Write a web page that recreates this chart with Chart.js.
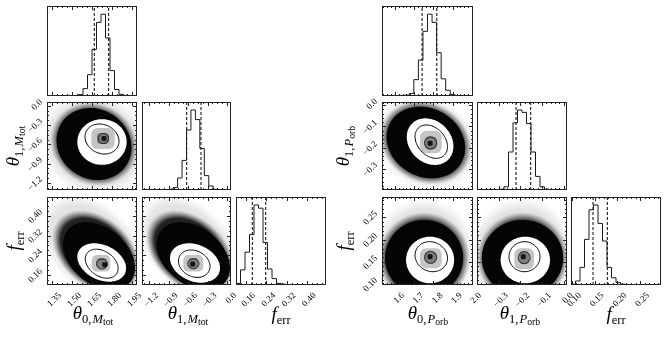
<!DOCTYPE html>
<html><head><meta charset="utf-8">
<script src="https://cdn.jsdelivr.net/npm/chart.js@4.4.1/dist/chart.umd.min.js"></script>
<style>
html,body{margin:0;padding:0;background:#fff;}
#wrap{position:relative;width:664px;height:338px;overflow:hidden;background:#fff;}
#wrap canvas{position:absolute;left:0;top:0;}
.lab{position:absolute;z-index:5;font-family:'Liberation Serif','DejaVu Serif',serif;font-size:19px;line-height:1;white-space:nowrap;color:#000;}
.lab sub{font-size:0.66em;vertical-align:-0.32em;font-style:normal;line-height:1}
.lab sub sub{font-size:0.78em;vertical-align:-0.22em;}
.xl{top:315px;transform:translate(-50%,-50%);}
.yl{transform:translate(-50%,-50%) rotate(-90deg);}
</style></head><body>
<div id="wrap">
<div class="lab xl" style="left:93px"><i>θ</i><sub>0,&#8202;<i>M</i><sub>tot</sub></sub></div>
<div class="lab xl" style="left:188px"><i>θ</i><sub>1,&#8202;<i>M</i><sub>tot</sub></sub></div>
<div class="lab xl" style="left:281px"><i>f</i><sub>err</sub></div>
<div class="lab xl" style="left:428px"><i>θ</i><sub>0,&#8202;<i>P</i><sub>orb</sub></sub></div>
<div class="lab xl" style="left:520px"><i>θ</i><sub>1,&#8202;<i>P</i><sub>orb</sub></sub></div>
<div class="lab xl" style="left:616px"><i>f</i><sub>err</sub></div>
<div class="lab yl" style="left:15px;top:146px"><i>θ</i><sub>1,&#8202;<i>M</i><sub>tot</sub></sub></div>
<div class="lab yl" style="left:15px;top:241px"><i>f</i><sub>err</sub></div>
<div class="lab yl" style="left:345px;top:146px"><i>θ</i><sub>1,&#8202;<i>P</i><sub>orb</sub></sub></div>
<div class="lab yl" style="left:345px;top:241px"><i>f</i><sub>err</sub></div>
</div>
<script>
// ---------------- tick labels ----------------
const ticksThetaM0 = ['1.35','1.50','1.65','1.80','1.95'];
const ticksThetaM1 = ['−1.2','−0.9','−0.6','−0.3','0.0'];
const ticksFerrM   = ['0.16','0.24','0.32','0.40'];
const ticksThetaP0 = ['1.6','1.7','1.8','1.9','2.0'];
const ticksThetaP1 = ['−0.3','−0.2','−0.1','0.0'];
const ticksFerrP   = ['0.10','0.15','0.20','0.25'];
// ---------------- axis ranges ----------------
const rangeThetaM0 = [1.3125, 1.9875];
const rangeThetaM1 = [-1.31, 0.06];
const rangeFerrM   = [0.12, 0.476];
const rangeThetaP0 = [1.533, 2.005];
const rangeThetaP1 = [-0.40, 0.015];
const rangeFerrP   = [0.098, 0.296];
// ---------------- 1D histograms (20 bins over the axis range, relative counts) ----------------
const histThetaM0 = [0,0,0,0,0,0,0.005,0.017,0.09,0.26,0.57,0.90,1.0,0.71,0.31,0.08,0.02,0.008,0,0];
const histThetaM1 = [0,0,0,0,0,0,0.01,0.03,0.15,0.37,0.75,1.0,0.88,0.52,0.18,0.05,0.01,0.003,0,0];
const histFerrM   = [0.02,0.19,0.41,0.63,1.0,0.96,0.53,0.2,0.08,0.02,0.01,0.005,0,0,0,0,0,0,0,0];
const histThetaP0 = [0,0,0,0,0,0.01,0.03,0.2,0.44,0.79,1.0,0.9,0.53,0.21,0.07,0.02,0.005,0,0,0];
const histThetaP1 = [0,0,0,0,0,0.01,0.04,0.475,0.84,1.0,0.97,0.83,0.475,0.17,0.04,0.01,0,0,0,0];
const histFerrP   = [0.01,0.05,0.22,0.57,0.94,1.0,0.77,0.55,0.22,0.09,0.03,0.01,0,0,0,0,0,0,0,0];
// ---------------- 16% / 84% quantiles (dashed lines) ----------------
const qThetaM0 = [1.667, 1.775];
const qThetaM1 = [-0.622, -0.402];
const qFerrM   = [0.1845, 0.2375];
const qThetaP0 = [1.7408, 1.8172];
const qThetaP1 = [-0.220, -0.1524];
const qFerrP   = [0.1464, 0.1779];
// ---------------- 2D density levels: [cx, cy, rx, ry, rho] in data units ----------------
// panel order: M(θ1|θ0), M(f|θ0), M(f|θ1), P(θ1|θ0), P(f|θ0), P(f|θ1)
const sampleSparse = [
  [1.665,-0.594,0.42,0.80,-0.1],[1.66,0.27,0.40,0.22,-0.4],[-0.57,0.27,0.80,0.22,-0.4],
  [1.7605,-0.176,0.27,0.23,-0.15],[1.7512,0.165,0.27,0.13,0],[-0.1925,0.165,0.25,0.13,0]];
const sampleHalo = [
  [1.665,-0.594,0.33,0.654,-0.1],[1.68,0.2535,0.33,0.17,-0.35],[-0.571,0.2535,0.677,0.17,-0.35],
  [1.7605,-0.176,0.239,0.198,-0.15],[1.7512,0.1588,0.239,0.1035,0],[-0.1902,0.1588,0.212,0.1035,0]];
const sampleDense = [
  [1.665,-0.594,0.281,0.560,-0.1],[1.7025,0.237,0.27,0.1375,-0.35],[-0.52,0.237,0.565,0.1375,-0.35],
  [1.7605,-0.176,0.2036,0.169,-0.15],[1.7512,0.1588,0.2026,0.0855,0],[-0.1902,0.1588,0.188,0.0855,0]];
const level2sigma = [
  [1.725,-0.563,0.185,0.355,0],[1.7228,0.211,0.183,0.0777,-0.3],[-0.494,0.209,0.385,0.0797,-0.25],
  [1.7824,-0.172,0.121,0.110,-0.2],[1.7824,0.1543,0.1247,0.0524,0],[-0.1773,0.1543,0.1139,0.0524,0]];
const level1sigma = [
  [1.725,-0.516,0.1275,0.2335,-0.15],[1.7228,0.2062,0.123,0.0587,-0.33],[-0.506,0.2062,0.243,0.0554,-0.2],
  [1.7886,-0.172,0.0842,0.0788,-0.3],[1.7886,0.1617,0.0842,0.0338,-0.1],[-0.181,0.1617,0.0715,0.0338,0]];
const densOuter = [
  [1.7325,-0.508,0.0878,0.1635],[1.7175,0.2078,0.069,0.0336],[-0.520,0.2078,0.154,0.0336],
  [1.7865,-0.1736,0.0561,0.0533],[1.7865,0.158,0.0561,0.0225],[-0.1824,0.157,0.0452,0.0236]];
const densInner = [
  [1.7325,-0.508,0.045,0.0856],[1.7228,0.2078,0.0375,0.0202],[-0.520,0.2078,0.077,0.0202],
  [1.7865,-0.1783,0.0301,0.0297],[1.785,0.1606,0.0286,0.0124],[-0.1825,0.1592,0.023,0.0135]];
const levelHalfSigma = [
  [1.736,-0.508,0.0375,0.078,0],[1.725,0.205,0.041,0.0202,0],[-0.52,0.206,0.0847,0.0202,0],
  [1.785,-0.1783,0.0312,0.0283,0],[1.785,0.1602,0.0312,0.0135,0],[-0.1825,0.1595,0.027,0.0135,0]];
const densPeak = [
  [1.74,-0.508,0.019,0.039],[1.7453,0.2021,0.019,0.0101],[-0.530,0.205,0.0385,0.0101],
  [1.7824,-0.1797,0.013,0.0118],[1.7824,0.1617,0.013,0.0056],[-0.1865,0.1617,0.0115,0.0056]];

// ---------------- layout (pixels) ----------------
const W = 664, H = 338, AX = 40;
const colsL = [[47,137],[142,231],[236,326]];
const colsR = [[382,473],[477,567],[571,661]];
const rows  = [[6,96],[102,190],[197,285]];
const num = s => parseFloat(String(s).replace('−','-'));
const tickFont = {family:"'Liberation Serif', 'DejaVu Serif', serif", size:9, lineHeight:1};
const wrap = document.getElementById('wrap');

function ellPoints(xs, ys, e){
  const [cx,cy,rx,ry,rho] = e;
  const PX = xs.getPixelForValue(cx), PY = ys.getPixelForValue(cy);
  const RX = xs.getPixelForValue(cx+rx) - PX, RY = PY - ys.getPixelForValue(cy+ry);
  return {PX,PY,RX,RY,rho:rho||0,s:Math.sqrt(1-(rho||0)*(rho||0))};
}
function ellPath(ctx, xs, ys, e){
  const p = ellPoints(xs, ys, e);
  ctx.beginPath();
  const N = 90;
  for(let k=0;k<=N;k++){
    const t = 2*Math.PI*k/N;
    const X = p.PX + p.RX*Math.cos(t);
    const Y = p.PY - p.RY*(p.rho*Math.cos(t) + p.s*Math.sin(t));
    if(k) ctx.lineTo(X,Y); else ctx.moveTo(X,Y);
  }
  ctx.closePath();
}
function drawGlow(ctx, xs, ys, e, stops){
  const p = ellPoints(xs, ys, e);
  ctx.save();
  ctx.transform(p.RX, -p.RY*p.rho, 0, -p.RY*p.s, p.PX, p.PY);
  const g = ctx.createRadialGradient(0,0,0,0,0,1);
  stops.forEach(s => g.addColorStop(s[0], 'rgba(0,0,0,'+s[1]+')'));
  ctx.fillStyle = g;
  ctx.beginPath(); ctx.arc(0,0,1,0,2*Math.PI); ctx.fill();
  ctx.restore();
}
function fillBox(ctx, xs, ys, e, color){
  const [cx,cy,rx,ry] = e;
  const l = xs.getPixelForValue(cx-rx), r = xs.getPixelForValue(cx+rx);
  const t = ys.getPixelForValue(cy+ry), b = ys.getPixelForValue(cy-ry);
  ctx.fillStyle = color;
  ctx.beginPath();
  const rad = Math.min(r-l, b-t)*0.3;
  if (ctx.roundRect) ctx.roundRect(l, t, r-l, b-t, rad); else ctx.rect(l, t, r-l, b-t);
  ctx.fill();
}
function minorVals(majors, n, min, max){
  const step = (majors[1]-majors[0])/n;
  const out = [];
  let k0 = Math.ceil((min - majors[0])/step - 1e-9);
  for(let k=k0; majors[0]+k*step <= max+1e-9; k++){
    out.push({v: majors[0]+k*step, major: ((k % n)+n)%n === 0});
  }
  return out;
}

function makePanel(spec){
  const cv = document.createElement('canvas');
  cv.width = W; cv.height = H; cv.style.width = W+'px'; cv.style.height = H+'px';
  wrap.insertBefore(cv, wrap.firstChild);
  const [x0,x1] = spec.col, [y0,y1] = spec.row;
  const fitX = s => { s.height = AX; s.paddingLeft = s.paddingRight = s.paddingTop = s.paddingBottom = 0; };
  const fitY = s => { s.width = AX; s.paddingLeft = s.paddingRight = s.paddingTop = s.paddingBottom = 0; };
  const datasets = [];
  let yr = spec.yr;
  const xt = spec.xt, yt = spec.yt || [];
  if (spec.hist){
    const n = spec.hist.length, step = (spec.xr[1]-spec.xr[0])/n;
    const pts = [];
    for(let i=0;i<=n;i++) pts.push({x: spec.xr[0]+i*step, y: spec.hist[Math.min(i,n-1)]});
    datasets.push({data: pts, stepped: 'before', borderColor: '#1a1a1a', borderWidth: 1, pointRadius: 0, fill: false});
    const top = 1.1*Math.max(...spec.hist);
    spec.q.forEach(v => datasets.push({data: [{x:v,y:0},{x:v,y:top}], borderColor:'#000', borderWidth:1, borderDash:[3,2], pointRadius:0, fill:false}));
    yr = [0, top];
  }
  const plugin = {
    id: 'corner_'+spec.id,
    beforeDatasetsDraw(chart){
      if (spec.dens === undefined) return;
      const {ctx, chartArea:a} = chart, xs = chart.scales.x, ys = chart.scales.y, i = spec.dens;
      ctx.save();
      ctx.beginPath(); ctx.rect(a.left, a.top, a.right-a.left, a.bottom-a.top); ctx.clip();
      drawGlow(ctx, xs, ys, sampleSparse[i], [[0,0.16],[0.8,0.1],[0.92,0.035],[1,0]]);
      drawGlow(ctx, xs, ys, sampleHalo[i], [[0,0.9],[0.8,0.85],[0.88,0.45],[0.95,0.15],[1,0]]);
      ellPath(ctx, xs, ys, sampleDense[i]); ctx.fillStyle = '#050505'; ctx.fill();
      ellPath(ctx, xs, ys, level2sigma[i]); ctx.fillStyle = '#fff'; ctx.fill();
      fillBox(ctx, xs, ys, densOuter[i], '#c4c4c4');
      fillBox(ctx, xs, ys, densInner[i], '#7e7e7e');
      fillBox(ctx, xs, ys, densPeak[i], '#151515');
      ctx.strokeStyle = '#000'; ctx.lineWidth = 1;
      ellPath(ctx, xs, ys, level1sigma[i]); ctx.stroke();
      ellPath(ctx, xs, ys, levelHalfSigma[i]); ctx.stroke();
      ctx.restore();
    },
    afterDatasetsDraw(chart){
      const {ctx, chartArea:a} = chart, xs = chart.scales.x, ys = chart.scales.y;
      ctx.save();
      ctx.strokeStyle = '#222'; ctx.lineWidth = 1;
      ctx.strokeRect(a.left+0.5, a.top+0.5, a.right-a.left-1, a.bottom-a.top-1);
      ctx.beginPath();
      minorVals(xt.map(num), spec.xn, spec.xr[0], spec.xr[1]).forEach(t => {
        const X = Math.round(xs.getPixelForValue(t.v)) + 0.5;
        if (X < a.left+1 || X > a.right-1) return;
        const L = t.major ? 4 : 2;
        ctx.moveTo(X, a.bottom); ctx.lineTo(X, a.bottom-L);
        ctx.moveTo(X, a.top); ctx.lineTo(X, a.top+L);
      });
      if (yt.length){
        minorVals(yt.map(num), spec.yn, yr[0], yr[1]).forEach(t => {
          const Y = Math.round(ys.getPixelForValue(t.v)) + 0.5;
          if (Y < a.top+1 || Y > a.bottom-1) return;
          const L = t.major ? 4 : 2;
          ctx.moveTo(a.left, Y); ctx.lineTo(a.left+L, Y);
          ctx.moveTo(a.right, Y); ctx.lineTo(a.right-L, Y);
        });
      }
      ctx.stroke();
      ctx.restore();
    }
  };
  new Chart(cv, {
    type: 'line',
    data: {datasets},
    options: {
      responsive: false, animation: false, events: [],
      layout: {padding: {left: x0-AX, right: W-x1, top: y0, bottom: H-y1-AX}},
      plugins: {legend: {display:false}, tooltip: {enabled:false}},
      scales: {
        x: {type:'linear', min: spec.xr[0], max: spec.xr[1], bounds:'data',
            grid: {display:false, drawTicks:false}, border: {display:false},
            afterBuildTicks: s => { s.ticks = xt.map(t => ({value: num(t)})); },
            afterFit: fitX,
            ticks: {display: !!spec.showX, autoSkip:false, minRotation:45, maxRotation:45, padding:6, labelOffset:8,
                    font: tickFont, color:'#000', callback: (v,i) => xt[i]}},
        y: {type:'linear', min: yr[0], max: yr[1], bounds:'data',
            grid: {display:false, drawTicks:false}, border: {display:false},
            afterBuildTicks: s => { s.ticks = yt.map(t => ({value: num(t)})); },
            afterFit: fitY,
            ticks: {display: !!spec.showY, autoSkip:false, minRotation:45, maxRotation:45, padding:6, labelOffset:-5,
                    font: tickFont, color:'#000', callback: (v,i) => yt[i]}}
      }
    },
    plugins: [plugin]
  });
}

const panels = [
  {id:'L00', col:colsL[0], row:rows[0], xr:rangeThetaM0, xt:ticksThetaM0, xn:4, hist:histThetaM0, q:qThetaM0},
  {id:'L10', col:colsL[0], row:rows[1], xr:rangeThetaM0, xt:ticksThetaM0, xn:4, yr:rangeThetaM1, yt:ticksThetaM1, yn:4, dens:0, showY:true},
  {id:'L11', col:colsL[1], row:rows[1], xr:rangeThetaM1, xt:ticksThetaM1, xn:4, hist:histThetaM1, q:qThetaM1},
  {id:'L20', col:colsL[0], row:rows[2], xr:rangeThetaM0, xt:ticksThetaM0, xn:4, yr:rangeFerrM, yt:ticksFerrM, yn:4, dens:1, showX:true, showY:true},
  {id:'L21', col:colsL[1], row:rows[2], xr:rangeThetaM1, xt:ticksThetaM1, xn:4, yr:rangeFerrM, yt:ticksFerrM, yn:4, dens:2, showX:true},
  {id:'L22', col:colsL[2], row:rows[2], xr:rangeFerrM, xt:ticksFerrM, xn:4, hist:histFerrM, q:qFerrM, showX:true},
  {id:'R00', col:colsR[0], row:rows[0], xr:rangeThetaP0, xt:ticksThetaP0, xn:5, hist:histThetaP0, q:qThetaP0},
  {id:'R10', col:colsR[0], row:rows[1], xr:rangeThetaP0, xt:ticksThetaP0, xn:5, yr:rangeThetaP1, yt:ticksThetaP1, yn:5, dens:3, showY:true},
  {id:'R11', col:colsR[1], row:rows[1], xr:rangeThetaP1, xt:ticksThetaP1, xn:5, hist:histThetaP1, q:qThetaP1},
  {id:'R20', col:colsR[0], row:rows[2], xr:rangeThetaP0, xt:ticksThetaP0, xn:5, yr:rangeFerrP, yt:ticksFerrP, yn:5, dens:4, showX:true, showY:true},
  {id:'R21', col:colsR[1], row:rows[2], xr:rangeThetaP1, xt:ticksThetaP1, xn:5, yr:rangeFerrP, yt:ticksFerrP, yn:5, dens:5, showX:true},
  {id:'R22', col:colsR[2], row:rows[2], xr:rangeFerrP, xt:ticksFerrP, xn:5, hist:histFerrP, q:qFerrP, showX:true}
];
panels.forEach(makePanel);
</script>
</body></html>
